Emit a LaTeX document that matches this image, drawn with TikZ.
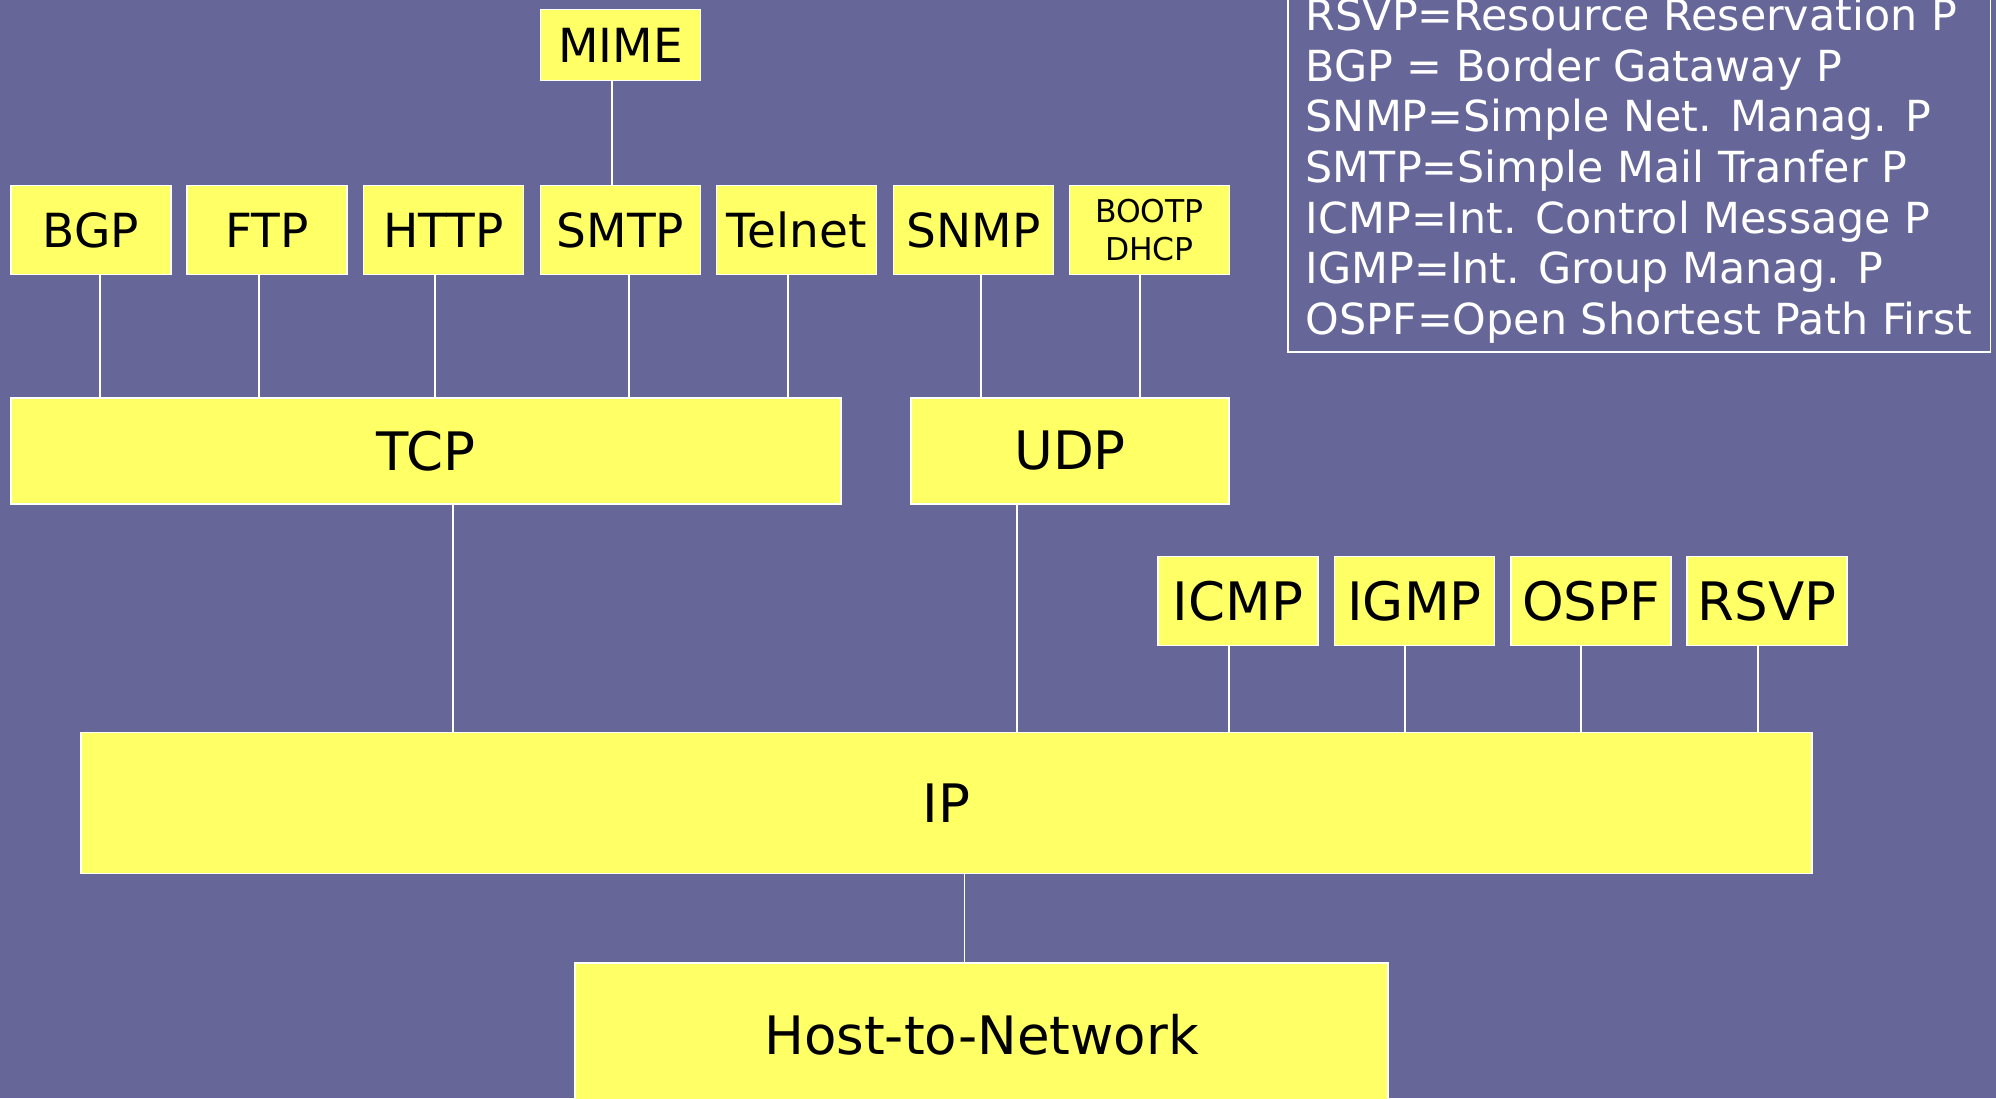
\documentclass[tikz,border=0pt]{standalone}
\usepackage{fontspec}
\setmainfont{DejaVu Sans}
\definecolor{slide}{HTML}{666699}
\definecolor{layer}{HTML}{FFFF66}

\begin{document}
\begin{tikzpicture}
[x=.5pt,y=-.5pt,
 proto/.style={fill=layer,draw=white,line width=.8pt,inner sep=0pt,
   minimum width=80pt,minimum height=44.5pt,font=\fontsize{23.5}{28}\selectfont},
 wide/.style={proto,font=\fontsize{26.5}{32}\selectfont},
 link/.style={draw=white,line width=.75pt}]
\useasboundingbox (0,0) rectangle (1996,1098);
\fill[slide] (0,0) rectangle (1996,1098);

\node[proto,minimum height=35.5pt] (mime) at (620.5,45) {MIME};

\node[proto] (bgp) at (91,230) {BGP};
\node[proto] (ftp) at (267,230) {FTP};
\node[proto] (http) at (443.5,230) {HTTP};
\node[proto] (smtp) at (620.5,230) {SMTP};
\node[proto] (telnet) at (796.5,230) {Telnet};
\node[proto] (snmp) at (973.5,230) {SNMP};
\node[proto,align=center,font=\fontsize{15.7}{19}\selectfont] (bootp) at (1149.5,230) {BOOTP\\DHCP};

\node[wide,minimum width=415pt,minimum height=53pt] (tcp) at (426,451) {TCP};
\node[wide,minimum width=159pt,minimum height=53pt] (udp) at (1070,451) {UDP};

\node[wide] (icmp) at (1238,601) {ICMP};
\node[wide] (igmp) at (1414.5,601) {IGMP};
\node[wide] (ospf) at (1591,601) {OSPF};
\node[wide] (rsvp) at (1767,601) {RSVP};

\node[wide,minimum width=865.5pt,minimum height=70.5pt] (ip) at (946.5,803) {IP};
\node[wide,minimum width=406.5pt,minimum height=72pt] (host) at (981.5,1035) {Host-to-Network};

\node[draw=white,line width=.8pt,text=white,align=left,anchor=south west,
  inner xsep=9pt,inner ysep=4.5pt,font=\fontsize{21.4}{25.3}\selectfont] (key) at (1287,353)
  {RSVP=Resource Reservation P\\BGP = Border Gataway P\\SNMP=Simple Net. Manag. P\\
   SMTP=Simple Mail Tranfer P\\ICMP=Int. Control Message P\\IGMP=Int. Group Manag. P\\
   OSPF=Open Shortest Path First};

\foreach \from/\to/\dx in {mime/smtp/-8.5,bgp/tcp/9,ftp/tcp/-8,http/tcp/-8.5,smtp/tcp/8.5,
  telnet/tcp/-8.5,snmp/udp/7.5,bootp/udp/-9.5,tcp/ip/27,udp/ip/-53,icmp/ip/-9,igmp/ip/-9.5,
  ospf/ip/-10,rsvp/ip/-9,ip/host/18}
\draw[link] ([shift={(\dx,0)}]\from.south) -- ([shift={(\dx,0)}]\from.south |- \to.north);
\end{tikzpicture}
\end{document}
